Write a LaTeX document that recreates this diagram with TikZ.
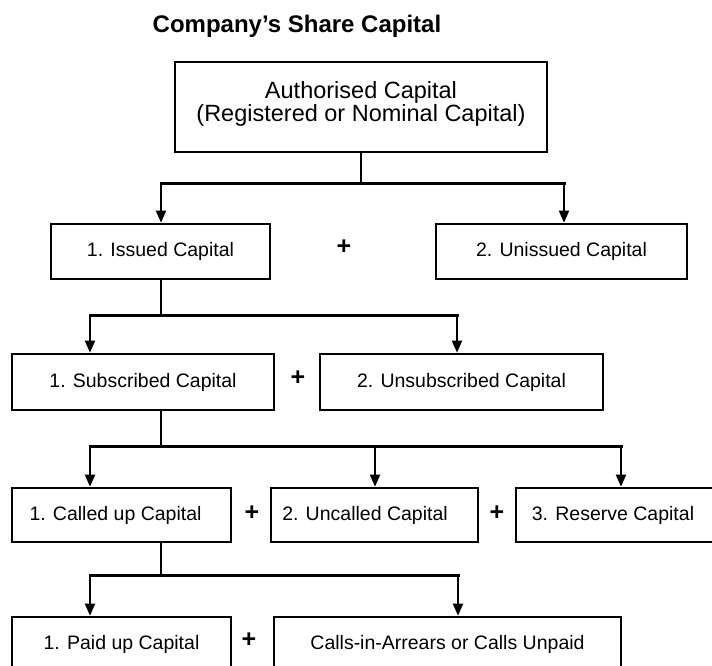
\documentclass[tikz,border=0pt]{standalone}
\usepackage{fontspec}
\setmainfont{Liberation Sans}
\usetikzlibrary{arrows.meta}
\begin{document}
\begin{tikzpicture}[x=1pt,y=-1pt,
  box/.style={draw, line width=2.6pt, inner sep=0pt, font=\fontsize{19.5}{24}\selectfont, minimum height=55pt},
  stem/.style={line width=2pt},
  bar/.style={line width=3pt, line cap=rect},
  arr/.style={line width=2pt, -{Triangle[length=12pt,width=10pt]}},
  plus/.style={font=\bfseries\fontsize{25}{28}\selectfont, inner sep=0pt},
  title/.style={font=\bfseries\fontsize{24}{28}\selectfont, inner sep=0pt}]
\useasboundingbox (0,0) rectangle (712,666);
\node[title] (t) at (297,26) {Company’s Share Capital};
\node[box, minimum width=372pt, minimum height=90pt, align=center, text depth=11pt, font=\fontsize{23.5}{23}\selectfont] (auth) at (361,107) {Authorised Capital\\(Registered or Nominal Capital)};
\node[box, minimum width=219pt] (iss) at (160.5,251.5) {1. Issued Capital};
\node[box, minimum width=251pt] (uniss) at (561.5,251.5) {2. Unissued Capital};
\node[plus] (p1) at (344,247) {+};
\node[box, minimum width=262pt, minimum height=56pt] (sub) at (143,382) {1. Subscribed Capital};
\node[box, minimum width=283pt, minimum height=56pt] (unsub) at (461.5,382) {2. Unsubscribed Capital};
\node[plus] (p2) at (298,378) {+};
\node[box, minimum width=219pt, minimum height=54pt] (called) at (121.5,515) {1. Called up Capital\hspace*{12pt}};
\node[box, minimum width=207pt, minimum height=54pt] (uncalled) at (374.5,515) {2. Uncalled Capital\hspace*{19pt}};
\node[box, minimum width=210pt, minimum height=54pt] (res) at (621,515) {3. Reserve Capital\hspace*{16pt}};
\node[plus] (p3) at (252,513) {+};
\node[plus] (p4) at (497,513) {+};
\node[box, minimum width=219pt, minimum height=54pt] (paid) at (121.5,644) {1. Paid up Capital};
\node[box, minimum width=347pt, minimum height=54pt] (calls) at (447.5,644) {Calls-in-Arrears or Calls Unpaid};
\node[plus] (p5) at (249,640) {+};
% level 1
\coordinate (b1l) at (161,183);
\coordinate (b1r) at (564,183);
\draw[stem] (auth.south) -- (auth.south |- b1l);
\draw[bar] (b1l) -- (b1r);
\draw[arr] (b1l) -- (b1l |- iss.north);
\draw[arr] (b1r) -- (b1r |- uniss.north);
% level 2
\coordinate (b2l) at (90,315);
\coordinate (b2r) at (457,315);
\coordinate (s2) at (161,315);
\draw[stem] (s2 |- iss.south) -- (s2);
\draw[bar] (b2l) -- (b2r);
\draw[arr] (b2l) -- (b2l |- sub.north);
\draw[arr] (b2r) -- (b2r |- unsub.north);
% level 3
\coordinate (b3l) at (90,446);
\coordinate (b3m) at (375,446);
\coordinate (b3r) at (621,446);
\coordinate (s3) at (161,446);
\draw[stem] (s3 |- sub.south) -- (s3);
\draw[bar] (b3l) -- (b3r);
\draw[arr] (b3l) -- (b3l |- called.north);
\draw[arr] (b3m) -- (b3m |- uncalled.north);
\draw[arr] (b3r) -- (b3r |- res.north);
% level 4
\coordinate (b4l) at (90,575);
\coordinate (b4r) at (458,575);
\coordinate (s4) at (161,575);
\draw[stem] (s4 |- called.south) -- (s4);
\draw[bar] (b4l) -- (b4r);
\draw[arr] (b4l) -- (b4l |- paid.north);
\draw[arr] (b4r) -- (b4r |- calls.north);
\end{tikzpicture}
\end{document}
